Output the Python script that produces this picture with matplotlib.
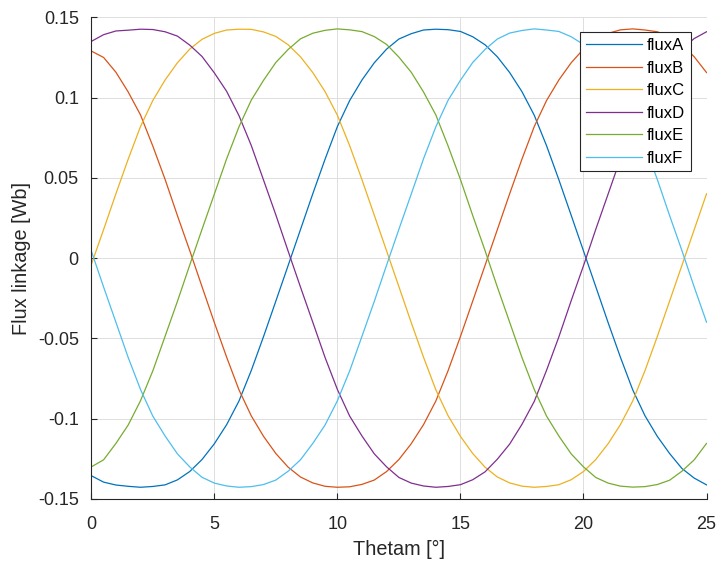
import matplotlib
matplotlib.use("Agg")
import matplotlib.pyplot as plt

# rotor angle samples [deg]
theta = [0, 0.5, 1, 1.5, 2, 2.5, 3, 3.5, 4, 4.5, 5, 5.5, 6, 6.5, 7, 7.5, 8, 8.5, 9, 9.5,
         10, 10.5, 11, 11.5, 12, 12.5, 13, 13.5, 14, 14.5, 15, 15.5, 16, 16.5, 17, 17.5,
         18, 18.5, 19, 19.5, 20, 20.5, 21, 21.5, 22, 22.5, 23, 23.5, 24, 24.5, 25]

# flux linkage per phase [Wb]
fluxA = [-0.1355, -0.1395, -0.1413, -0.1421, -0.1427, -0.1422, -0.1412, -0.1381, -0.1329, -0.1254,
         -0.1156, -0.1037, -0.0890, -0.0700, -0.0488, -0.0267, -0.0045, 0.0178, 0.0401, 0.0617,
         0.0820, 0.0982, 0.1110, 0.1217, 0.1302, 0.1365, 0.1398, 0.1421, 0.1426, 0.1423,
         0.1412, 0.1379, 0.1329, 0.1254, 0.1156, 0.1037, 0.0890, 0.0700, 0.0488, 0.0267,
         0.0045, -0.0178, -0.0401, -0.0617, -0.0820, -0.0982, -0.1110, -0.1217, -0.1310, -0.1370,
         -0.1412]
fluxB = [0.1290, 0.1250, 0.1158, 0.1035, 0.0892, 0.0698, 0.0490, 0.0265, 0.0047, -0.0178,
         -0.0401, -0.0617, -0.0820, -0.0982, -0.1110, -0.1217, -0.1302, -0.1363, -0.1400, -0.1421,
         -0.1427, -0.1424, -0.1409, -0.1382, -0.1329, -0.1254, -0.1156, -0.1037, -0.0890, -0.0700,
         -0.0488, -0.0267, -0.0045, 0.0178, 0.0401, 0.0617, 0.0820, 0.0982, 0.1110, 0.1217,
         0.1302, 0.1363, 0.1400, 0.1422, 0.1428, 0.1421, 0.1410, 0.1381, 0.1329, 0.1254,
         0.1156]
fluxC = [-0.0040, 0.0178, 0.0401, 0.0617, 0.0820, 0.0982, 0.1110, 0.1217, 0.1302, 0.1363,
         0.1400, 0.1421, 0.1426, 0.1425, 0.1409, 0.1381, 0.1329, 0.1254, 0.1156, 0.1037,
         0.0890, 0.0700, 0.0488, 0.0267, 0.0045, -0.0178, -0.0401, -0.0617, -0.0820, -0.0982,
         -0.1110, -0.1217, -0.1302, -0.1363, -0.1400, -0.1420, -0.1427, -0.1422, -0.1411, -0.1380,
         -0.1329, -0.1254, -0.1156, -0.1037, -0.0890, -0.0700, -0.0488, -0.0267, -0.0045, 0.0178,
         0.0401]
fluxD = [0.1350, 0.1392, 0.1415, 0.1420, 0.1426, 0.1424, 0.1410, 0.1383, 0.1327, 0.1256,
         0.1154, 0.1039, 0.0888, 0.0702, 0.0486, 0.0269, 0.0043, -0.0180, -0.0399, -0.0619,
         -0.0818, -0.0984, -0.1108, -0.1219, -0.1300, -0.1366, -0.1401, -0.1419, -0.1427, -0.1422,
         -0.1411, -0.1380, -0.1331, -0.1252, -0.1158, -0.1035, -0.0892, -0.0698, -0.0490, -0.0265,
         -0.0047, 0.0180, 0.0399, 0.0619, 0.0818, 0.0984, 0.1108, 0.1219, 0.1305, 0.1368,
         0.1410]
fluxE = [-0.1300, -0.1256, -0.1154, -0.1039, -0.0888, -0.0702, -0.0486, -0.0269, -0.0043, 0.0180,
         0.0399, 0.0619, 0.0818, 0.0984, 0.1108, 0.1219, 0.1300, 0.1366, 0.1401, 0.1419,
         0.1428, 0.1422, 0.1411, 0.1380, 0.1331, 0.1252, 0.1158, 0.1035, 0.0892, 0.0698,
         0.0490, 0.0265, 0.0047, -0.0180, -0.0399, -0.0619, -0.0818, -0.0984, -0.1108, -0.1219,
         -0.1300, -0.1366, -0.1401, -0.1420, -0.1426, -0.1423, -0.1410, -0.1383, -0.1327, -0.1256,
         -0.1154]
fluxF = [0.0045, -0.0180, -0.0399, -0.0619, -0.0818, -0.0984, -0.1108, -0.1219, -0.1300, -0.1365,
         -0.1401, -0.1419, -0.1427, -0.1423, -0.1410, -0.1382, -0.1327, -0.1256, -0.1154, -0.1039,
         -0.0888, -0.0702, -0.0486, -0.0269, -0.0043, 0.0180, 0.0399, 0.0619, 0.0818, 0.0984,
         0.1108, 0.1219, 0.1300, 0.1365, 0.1402, 0.1418, 0.1428, 0.1421, 0.1412, 0.1379,
         0.1331, 0.1252, 0.1158, 0.1035, 0.0892, 0.0698, 0.0490, 0.0265, 0.0047, -0.0180,
         -0.0399]

series_names = ["fluxA", "fluxB", "fluxC", "fluxD", "fluxE", "fluxF"]
x_ticks = [0, 5, 10, 15, 20, 25]
y_ticks = [-0.15, -0.1, -0.05, 0, 0.05, 0.1, 0.15]
y_ticklabels = ["-0.15", "-0.1", "-0.05", "0", "0.05", "0.1", "0.15"]

# MATLAB default line colours
colors = ["#0072BD", "#D95319", "#EDB120", "#7E2F8E", "#77AC30", "#4DBEEE"]

plt.rcParams['font.family'] = ['Liberation Sans', 'DejaVu Sans']

fig = plt.figure(figsize=(7.2, 5.68), dpi=100)
ax = fig.add_axes([0.1268, 0.1215, 0.8545, 0.848])

for name, ys, c in zip(series_names, [fluxA, fluxB, fluxC, fluxD, fluxE, fluxF], colors):
    ax.plot(theta, ys, color=c, linewidth=0.9, label=name)

ax.set_xlim(0, 25)
ax.set_ylim(-0.15, 0.15)
ax.set_xticks(x_ticks)
ax.set_yticks(y_ticks)
ax.set_yticklabels(y_ticklabels)

ax.grid(True, color="#dedede", linewidth=0.7)
ax.set_axisbelow(True)
for s in ["top", "right"]:
    ax.spines[s].set_visible(False)
for s in ["left", "bottom"]:
    ax.spines[s].set_color("#262626")
    ax.spines[s].set_linewidth(0.8)

ax.tick_params(direction="in", length=4.5, width=0.8, colors="#262626", labelsize=13)
ax.tick_params(axis="x", pad=12.5)
ax.tick_params(axis="y", pad=9)

ax.set_xlabel("Thetam [°]", fontsize=14.3, color="#262626", labelpad=5)
ax.set_ylabel("Flux linkage [Wb]", fontsize=14.3, color="#262626", labelpad=5)

leg = ax.legend(loc="upper right", bbox_to_anchor=(0.975, 0.969), borderaxespad=0,
                fontsize=12, handlelength=3.4, handletextpad=0.3, labelspacing=0.45,
                borderpad=0.35, fancybox=False, framealpha=1)
leg.get_frame().set_edgecolor("#262626")
leg.get_frame().set_linewidth(0.8)

fig.savefig("out.png", dpi=100)
